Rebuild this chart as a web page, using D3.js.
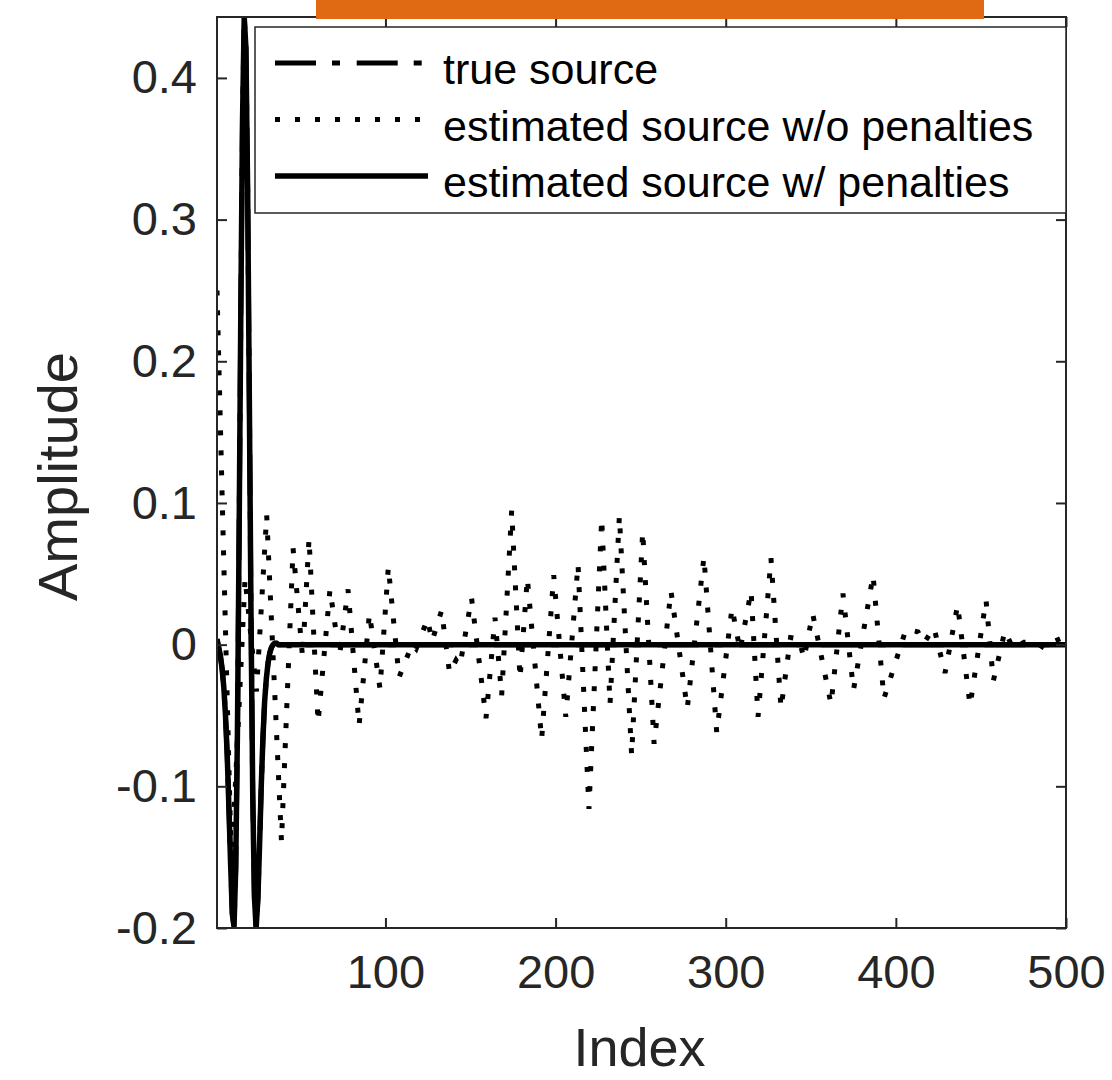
<!DOCTYPE html>
<html>
<head>
<meta charset="utf-8">
<script src="https://cdn.jsdelivr.net/npm/d3@7"></script>
<style>
  html, body { margin: 0; padding: 0; background: #ffffff; }
  svg { display: block; }
</style>
</head>
<body>
<div id="chart"></div>
<script>
// ---------------- data ----------------
const xTicks = [100, 200, 300, 400, 500];
const yTicks = [-0.2, -0.1, 0, 0.1, 0.2, 0.3, 0.4];
const legendLabels = ["true source", "estimated source w/o penalties", "estimated source w/ penalties"];

// true source (dash-dot) – sample index / amplitude
const trueIdx = [1,2,3,4,5,6,7,8,9,10,11,12,13,14,15,16,17,18,19,20,21,22,23,24,25,26,27,28,29,30,31,32,33,34,35,36,37,500];
const trueVal = [0.003,-0.002,-0.008,-0.017,-0.030,-0.050,-0.078,-0.115,-0.155,-0.190,-0.199,-0.158,-0.063,0.078,0.236,0.370,0.443,0.421,0.322,0.174,0.019,-0.105,-0.178,-0.200,-0.180,-0.142,-0.100,-0.066,-0.040,-0.024,-0.013,-0.006,-0.002,0.000,0.001,0.001,0.000,0.000];

// estimated source with penalties (solid)
const penIdx = [1,2,3,4,5,6,7,8,9,10,11,12,13,14,15,16,17,18,19,20,21,22,23,24,25,26,27,28,29,30,31,32,33,34,35,36,37,500];
const penVal = [0.004,-0.002,-0.008,-0.017,-0.030,-0.050,-0.078,-0.115,-0.155,-0.190,-0.199,-0.158,-0.063,0.078,0.236,0.370,0.443,0.421,0.322,0.174,0.019,-0.105,-0.178,-0.200,-0.180,-0.142,-0.100,-0.066,-0.040,-0.024,-0.013,-0.006,-0.002,0.000,0.001,0.001,0.000,0.000];

// estimated source without penalties (dotted) – turning points of the trace
const noPenIdx = [1,9.5,17.5,24.2,30.2,38.9,45.7,51.3,55.1,60.4,67.4,73,78,84.5,90.6,96.8,101.7,108,115.6,118,124.7,127.4,133,137.7,141.5,143.8,150.6,159.1,164.4,168.3,174.2,179.1,183.4,191.8,198.9,206,213.2,219.6,227.1,232,237.5,244.7,251.2,257.9,267.8,277.4,287.2,294.7,303.7,308.4,314.9,319,326.6,332.5,338.1,343.1,346,351.1,361.9,368.9,375.1,386.6,393,406,413,416.5,422.4,428.9,436.3,443.6,453,457.3,464.1,469,475.3,481.8,488.1,492.4,500];
const noPenVal = [0.25,-0.158,0.047,-0.033,0.0915,-0.139,0.068,-0.009,0.075,-0.055,0.039,-0.008,0.039,-0.057,0.022,-0.031,0.055,-0.023,0.0,-0.003,0.018,0.0025,0.024,-0.02,-0.011,-0.015,0.033,-0.052,0.019,-0.036,0.0946,-0.024,0.047,-0.067,0.049,-0.051,0.057,-0.116,0.089,-0.042,0.091,-0.078,0.080,-0.070,0.038,-0.045,0.062,-0.062,0.026,-0.004,0.038,-0.051,0.061,-0.045,0.005,0.004,-0.010,0.022,-0.042,0.036,-0.032,0.049,-0.038,0.011,0.009,0.001,0.012,-0.02,0.028,-0.043,0.0315,-0.0255,0.0098,-0.003,0.0016,0.0016,-0.003,0.002,0.006];

// ---------------- layout ----------------
const W = 1112, H = 1080;
const L = 217, R = 1066, T = 17, B = 928;
const axisColor = "#262626";
const font = "'Liberation Sans', Arial, Helvetica, sans-serif";

const svg = d3.select("#chart").append("svg")
  .attr("width", W).attr("height", H)
  .style("font-family", font);

svg.append("rect").attr("width", W).attr("height", H).attr("fill", "#ffffff");

const x = d3.scaleLinear().domain([1, 500]).range([L, R]);
const y = d3.scaleLinear().domain([-0.2, 0.443]).range([B, T]);

svg.append("defs").append("clipPath").attr("id", "plotclip")
  .append("rect").attr("x", L).attr("y", T).attr("width", R - L).attr("height", B - T);

const line = d3.line().x(d => x(d[0])).y(d => y(d[1]));
const zipData = (a, b) => a.map((v, i) => [v, b[i]]);

const g = svg.append("g").attr("clip-path", "url(#plotclip)");

// true source: dash-dot
g.append("path").datum(zipData(trueIdx, trueVal))
  .attr("d", line).attr("fill", "none").attr("stroke", "#000")
  .attr("stroke-width", 5).attr("stroke-dasharray", "41,16,8,16.7");

// without penalties: dotted
g.append("path").datum(zipData(noPenIdx, noPenVal))
  .attr("d", line).attr("fill", "none").attr("stroke", "#000")
  .attr("stroke-width", 5).attr("stroke-dasharray", "5,15")
  .attr("stroke-linejoin", "miter");

// with penalties: solid
g.append("path").datum(zipData(penIdx, penVal))
  .attr("d", line).attr("fill", "none").attr("stroke", "#000")
  .attr("stroke-width", 5.5).attr("stroke-linejoin", "round");

// ---------------- axes ----------------
const tickLen = 10;
const fmtY = d => (d === 0 ? "0" : String(d));

const yAxis = svg.append("g").attr("transform", `translate(${L},0)`)
  .call(d3.axisLeft(y).tickValues(yTicks).tickFormat(fmtY)
    .tickSizeInner(-tickLen).tickSizeOuter(0).tickPadding(20));
const xAxis = svg.append("g").attr("transform", `translate(0,${B})`)
  .call(d3.axisBottom(x).tickValues(xTicks).tickFormat(d3.format("d"))
    .tickSizeInner(-tickLen).tickSizeOuter(0).tickPadding(27));
const yAxisR = svg.append("g").attr("transform", `translate(${R},0)`)
  .call(d3.axisRight(y).tickValues(yTicks).tickFormat("")
    .tickSizeInner(-tickLen).tickSizeOuter(0));
const xAxisT = svg.append("g").attr("transform", `translate(0,${T})`)
  .call(d3.axisTop(x).tickValues(xTicks).tickFormat("")
    .tickSizeInner(-tickLen).tickSizeOuter(0));

[yAxis, xAxis, yAxisR, xAxisT].forEach(a => {
  a.select(".domain").remove();
  a.selectAll(".tick line").attr("stroke", axisColor).attr("stroke-width", 2);
  a.selectAll(".tick text").attr("fill", axisColor)
    .style("font-family", font).style("font-size", "47px");
});
xAxis.selectAll(".tick text").attr("dy", "0.71em");

svg.append("rect").attr("x", L).attr("y", T).attr("width", R - L).attr("height", B - T)
  .attr("fill", "none").attr("stroke", axisColor).attr("stroke-width", 2);

// axis labels
svg.append("text").attr("x", (L + R) / 2 - 2).attr("y", 1066)
  .attr("text-anchor", "middle").attr("fill", axisColor)
  .style("font-size", "54px").text("Index");
svg.append("text").attr("transform", `translate(77,${(T + B) / 2 + 4}) rotate(-90)`)
  .attr("text-anchor", "middle").attr("fill", axisColor)
  .style("font-size", "56px").text("Amplitude");

// ---------------- legend ----------------
const lg = svg.append("g");
lg.append("rect").attr("x", 255).attr("y", 27).attr("width", R - 255).attr("height", 186)
  .attr("fill", "#ffffff").attr("stroke", axisColor).attr("stroke-width", 1.5);
const rowsY = [63, 119.5, 176];
const styles = [
  { dash: "41,16,8,16.7", w: 5 },
  { dash: "5,15", w: 5 },
  { dash: null, w: 5.5 }
];
legendLabels.forEach((lab, i) => {
  const ln = lg.append("line").attr("x1", 275).attr("x2", 428)
    .attr("y1", rowsY[i]).attr("y2", rowsY[i])
    .attr("stroke", "#000").attr("stroke-width", styles[i].w);
  if (styles[i].dash) ln.attr("stroke-dasharray", styles[i].dash);
  lg.append("text").attr("x", 443).attr("y", rowsY[i] + 21)
    .attr("fill", "#000").style("font-size", "43px").text(lab);
});

// orange bar at the top
svg.append("rect").attr("x", 316).attr("y", 0).attr("width", 668).attr("height", 19)
  .attr("fill", "#DF6A13");
</script>
</body>
</html>
